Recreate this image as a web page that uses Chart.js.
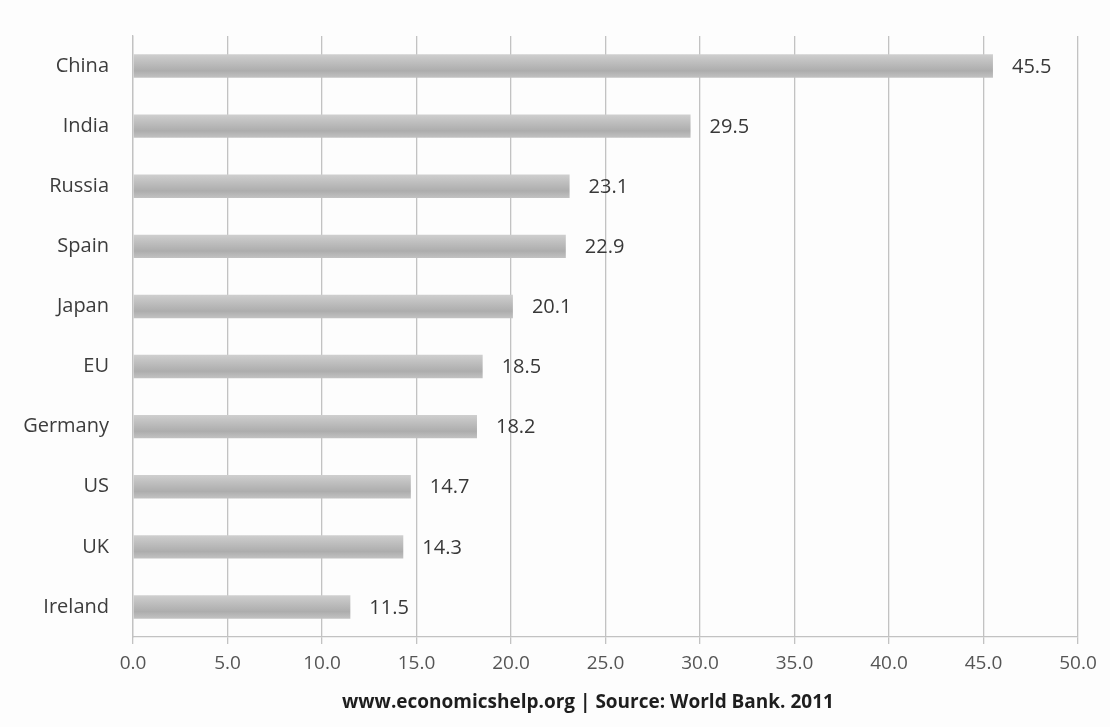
<!DOCTYPE html>
<html>
<head>
<meta charset="utf-8">
<script src="https://cdn.jsdelivr.net/npm/chart.js"></script>
<style>
html,body{margin:0;padding:0;background:#fdfdfd;}
#wrap{width:1110px;height:727px;position:relative;}
</style>
</head>
<body>
<div id="wrap"><canvas id="c" width="1110" height="727"></canvas></div>
<script>
const categories = ["China","India","Russia","Spain","Japan","EU","Germany","US","UK","Ireland"];
const values = [45.5,29.5,23.1,22.9,20.1,18.5,18.2,14.7,14.3,11.5];
const xTicks = [0,5,10,15,20,25,30,35,40,45,50];
const caption = "www.economicshelp.org | Source: World Bank. 2011";

const FONT = "'Open Sans', sans-serif";
const BAR_PCT = 0.39;

function barGradient(context){
  const chart = context.chart;
  const ys = chart.scales && chart.scales.y;
  if(!ys || context.dataIndex === undefined) return '#b8b8b8';
  const cy = ys.getPixelForValue(context.dataIndex);
  const band = Math.abs(ys.getPixelForValue(1) - ys.getPixelForValue(0));
  if(!isFinite(cy) || !isFinite(band) || band <= 0) return '#b8b8b8';
  const h = band * BAR_PCT;
  const g = chart.ctx.createLinearGradient(0, cy - h/2, 0, cy + h/2);
  g.addColorStop(0, '#cfcfcf');
  g.addColorStop(0.3, '#c0c0c0');
  g.addColorStop(0.7, '#adadad');
  g.addColorStop(1, '#c2c2c2');
  return g;
}

const valueLabels = {
  id:'valueLabels',
  afterDatasetsDraw(chart){
    const ctx = chart.ctx;
    const meta = chart.getDatasetMeta(0);
    ctx.save();
    ctx.font = "20px " + FONT;
    ctx.fillStyle = '#383838';
    ctx.textBaseline = 'middle';
    ctx.textAlign = 'left';
    meta.data.forEach((bar,i)=>{
      ctx.fillText(values[i].toFixed(1), bar.x + 19, bar.y + 1);
    });
    ctx.restore();
  }
};

const captionPlugin = {
  id:'captionPlugin',
  afterDraw(chart){
    const ctx = chart.ctx;
    ctx.save();
    ctx.font = "bold 19px " + FONT;
    ctx.fillStyle = '#1e1e1e';
    ctx.textAlign = 'center';
    ctx.textBaseline = 'middle';
    ctx.fillText(caption, 588, 703);
    ctx.restore();
  }
};

const chart = new Chart(document.getElementById('c'), {
  type:'bar',
  data:{
    labels:categories,
    datasets:[{
      data:values,
      backgroundColor:barGradient,
      borderWidth:0,
      barPercentage:BAR_PCT,
      categoryPercentage:1.0
    }]
  },
  options:{
    indexAxis:'y',
    responsive:false,
    animation:false,
    devicePixelRatio:1,
    layout:{padding:{top:36,right:32,bottom:40,left:0}},
    plugins:{legend:{display:false},tooltip:{enabled:false},title:{display:false}},
    scales:{
      x:{
        min:0,max:50,
        afterBuildTicks(axis){ axis.ticks = xTicks.map(v=>({value:v})); },
        afterFit(axis){ axis.height = 50; },
        grid:{color:'#c2c2c2',lineWidth:1.3,drawTicks:true,tickLength:7,tickColor:'#c2c2c2'},
        border:{display:true,color:'#c2c2c2',width:1.3},
        ticks:{
          callback:(v)=>Number(v).toFixed(1),
          font:{family:FONT,size:19},
          color:'#555555',
          padding:8,
          maxRotation:0,
          autoSkip:false
        }
      },
      y:{
        afterFit(axis){ axis.width = 133; },
        grid:{display:false},
        border:{display:true,color:'#c2c2c2',width:1.3},
        ticks:{
          font:{family:FONT,size:20},
          color:'#3c3c3c',
          padding:16
        }
      }
    }
  },
  plugins:[valueLabels,captionPlugin]
});
chart.update('none');
</script>
</body>
</html>
